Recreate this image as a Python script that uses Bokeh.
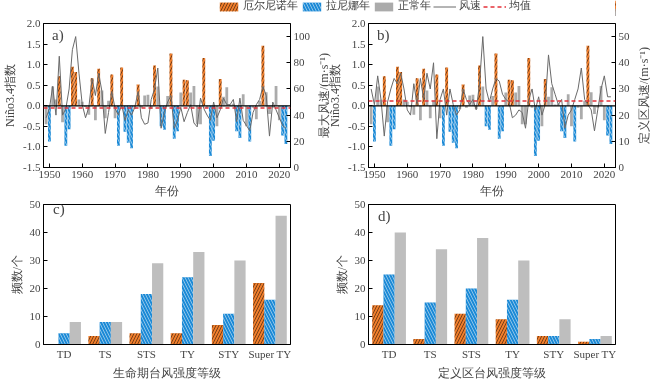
import math
import numpy as np
from bokeh.plotting import figure
from bokeh.models import (ColumnDataSource, Range1d, LinearAxis, Span, Legend, LegendItem,
                          FixedTicker, FactorRange, Label, NumeralTickFormatter)
from bokeh.layouts import column
from bokeh.embed import file_html
from bokeh.resources import INLINE
from bokeh.transform import dodge

# ---------------- data ----------------
years = list(range(1949, 2023))
nino34 = [-0.45, -0.87, 0.47, 0.15, 0.72, -0.40, -0.97, -0.57, 0.95, 0.82,
          0.15, 0.10, -0.03, -0.22, 0.67, -0.35, 0.90, 0.37, -0.30, 0.12,
          0.76, -0.30, -0.97, 0.93, -0.63, -0.90, -1.03, -0.08, 0.52, -0.05,
          0.25, 0.27, -0.08, 0.98, 0.47, -0.50, -0.58, 0.24, 1.27, -0.80,
          -0.62, 0.32, 0.63, 0.62, 0.32, 0.48, -0.45, -0.45, 1.16, -0.05,
          -1.22, -0.85, -0.50, 0.65, 0.22, 0.45, 0.03, 0.05, -0.62, -0.78,
          0.28, -0.50, -0.87, -0.05, -0.33, 0.12, 1.46, 0.33, -0.20, -0.05,
          0.48, -0.35, -0.72, -0.93]
elnino_years = [1953, 1957, 1958, 1963, 1965, 1969, 1972, 1977, 1982, 1987,
                1991, 1992, 1997, 2002, 2015]
lanina_years = [1950, 1955, 1956, 1971, 1973, 1974, 1975, 1984, 1985, 1988,
                1989, 1999, 2000, 2007, 2008, 2011, 2021, 2022]

# lifetime maximum wind speed (m/s)
wind_max = [38, 45, 62, 40, 85, 40, 45, 60, 90, 100,
            72, 48, 38, 46, 68, 55, 72, 58, 26, 42,
            58, 45, 40, 48, 36, 44, 40, 46, 58, 38,
            33, 34, 52, 60, 76, 30, 42, 50, 55, 30,
            36, 46, 35, 42, 48, 34, 31, 53, 45, 40,
            36, 50, 38, 44, 53, 48, 48, 52, 35, 53,
            36, 32, 28, 42, 48, 52, 62, 55, 24, 50,
            44, 38, 32, 30]
wind_max_mean = 45.5
# wind speed inside defined region (m/s)
wind_region = [30, 24, 35, 26, 12, 25, 30, 34, 32, 36,
               30, 22, 20, 32, 24, 34, 26, 36, 30, 40,
               11, 26, 30, 20, 30, 24, 20, 22, 30, 26,
               24, 26, 22, 32, 50, 30, 25, 30, 34, 33,
               28, 26, 25, 19, 20, 22, 21, 15, 26, 30,
               22, 27, 20, 24, 43, 32, 28, 24, 26, 15,
               20, 22, 26, 30, 38, 26, 24, 22, 14, 22,
               30, 35, 27, 27]
wind_region_mean = 25.4

categories = ["TD", "TS", "STS", "TY", "STY", "Super TY"]
life_elnino = [0, 3, 4, 4, 7, 22]
life_lanina = [4, 8, 18, 24, 11, 16]
life_normal = [8, 8, 29, 33, 30, 46]
reg_elnino = [14, 2, 11, 9, 3, 1]
reg_lanina = [25, 15, 20, 16, 3, 2]
reg_normal = [40, 34, 38, 30, 9, 3]

year_ticks = [1950, 1960, 1970, 1980, 1990, 2000, 2010, 2020]
nino_ticks = [-1.5, -1.0, -0.5, 0.0, 0.5, 1.0, 1.5, 2.0]
count_ticks = [0, 10, 20, 30, 40, 50]

# ---------------- style ----------------
FONT = "Liberation Serif"
ORANGE = "#F07E2C"
BLUE = "#1C8AD6"
GRAY_A = "#ABABAB"
GRAY_C = "#BEBEBE"
LINE_GRAY = "#6A6A6A"
RED = "#E3323A"
HATCH = dict(hatch_scale=6, hatch_weight=0.5)


def style_axis(ax):
    ax.major_label_text_font = FONT
    ax.major_label_text_font_size = "11px"
    ax.axis_label_text_font = FONT
    ax.axis_label_text_font_size = "12px"
    ax.axis_label_text_font_style = "normal"
    ax.major_tick_in = 4
    ax.major_tick_out = 0
    ax.minor_tick_in = 0
    ax.minor_tick_out = 0
    ax.axis_line_color = "black"
    ax.major_tick_line_color = "black"
    ax.major_label_standoff = 3
    ax.axis_label_standoff = 3


def fixed(left, top):
    return {"position": "fixed", "left": f"{left}px", "top": f"{top}px"}


def base_fig(width, height, x_range, y_range, bl, br, bt, bb, left, top):
    p = figure(width=width, height=height, x_range=x_range, y_range=y_range,
               output_backend="svg", toolbar_location=None,
               min_border_left=bl, min_border_right=br, min_border_top=bt,
               min_border_bottom=bb, styles=fixed(left, top))
    p.xgrid.visible = False
    p.ygrid.visible = False
    p.outline_line_color = "black"
    p.outline_line_alpha = 1
    p.outline_line_width = 1
    p.border_fill_alpha = 0
    return p


def text_strip(width, height, left, top, text, angle, size):
    """A bare transparent strip that only carries one (rotated) title text."""
    s = figure(width=width, height=height, x_range=Range1d(0, 1), y_range=Range1d(0, 1),
               output_backend="svg", toolbar_location=None, x_axis_type=None,
               y_axis_type=None, min_border=0, styles=fixed(left, top))
    s.outline_line_color = None
    s.xgrid.visible = False
    s.ygrid.visible = False
    s.border_fill_alpha = 0
    s.background_fill_alpha = 0
    s.add_layout(Label(x=0.5, y=0.5, text=text, angle=angle, text_font=FONT,
                       text_font_size=size, text_align="center", text_baseline="middle"))
    return s


cls = ["E" if y in elnino_years else ("L" if y in lanina_years else "N") for y in years]


def class_source(c):
    idx = [i for i, k in enumerate(cls) if k == c]
    return ColumnDataSource(dict(year=[years[i] for i in idx], v=[nino34[i] for i in idx]))


def top_panel(wind, mean, rmax, rticks, tag, width, bl, br, left):
    p = base_fig(width, 184, Range1d(1948.2, 2023.4), Range1d(-1.5, 2.0), bl, br, 7, 33, left, 16)
    p.extra_y_ranges = {"wind": Range1d(0, rmax)}
    p.vbar(x="year", top="v", width=0.85, source=class_source("N"), fill_color=GRAY_A, line_color=None)
    p.vbar(x="year", top="v", width=0.85, source=class_source("E"), fill_color=ORANGE, line_color=None,
           hatch_pattern="/", hatch_color="black", **HATCH)
    p.vbar(x="year", top="v", width=0.85, source=class_source("L"), fill_color=BLUE, line_color=None,
           hatch_pattern="\\", hatch_color="white", **HATCH)
    p.add_layout(Span(location=0, dimension="width", line_color="black", line_width=1.2))
    p.line(x=years, y=wind, y_range_name="wind", line_color=LINE_GRAY, line_width=1)
    p.add_layout(Span(location=mean, dimension="width", y_range_name="wind",
                      line_color=RED, line_dash="4 3", line_width=1.5))
    p.xaxis.ticker = FixedTicker(ticks=year_ticks)
    p.xaxis.axis_label = "年份"
    p.yaxis.ticker = FixedTicker(ticks=nino_ticks)
    p.yaxis.formatter = NumeralTickFormatter(format="0.0")
    p.yaxis.axis_label = "Niño3.4指数"
    rax = LinearAxis(y_range_name="wind", ticker=FixedTicker(ticks=rticks))
    p.add_layout(rax, "right")
    for ax in p.xaxis + p.yaxis:
        style_axis(ax)
    p.add_layout(Label(x=1950.8, y=1.71, text=tag, text_font=FONT, text_font_size="15px",
                       text_baseline="middle"))
    return p


def bottom_panel(ve, vl, vn, xlabel, tag, tag_y, width, bl, br, left):
    p = base_fig(width, 188, FactorRange(factors=categories, range_padding=0),
                 Range1d(0, 50), bl, br, 10, 33, left, 194)
    src = ColumnDataSource(dict(cat=categories, e=ve, l=vl, n=vn))
    w = 0.273
    p.vbar(x=dodge("cat", -w, range=p.x_range), top="e", width=w, source=src,
           fill_color=ORANGE, line_color=None, hatch_pattern="/", hatch_color="black", **HATCH)
    p.vbar(x=dodge("cat", 0, range=p.x_range), top="l", width=w, source=src,
           fill_color=BLUE, line_color=None, hatch_pattern="\\", hatch_color="white", **HATCH)
    p.vbar(x=dodge("cat", w, range=p.x_range), top="n", width=w, source=src,
           fill_color=GRAY_C, line_color=None)
    p.yaxis.ticker = FixedTicker(ticks=count_ticks)
    p.yaxis.axis_label = "频数/个"
    p.xaxis.axis_label = xlabel
    for ax in p.xaxis + p.yaxis:
        style_axis(ax)
    p.xaxis.major_tick_line_color = None
    p.add_layout(Label(x=0.23, y=tag_y, text=tag, text_font=FONT, text_font_size="15px",
                       text_baseline="middle"))
    return p


pa = top_panel(wind_max, wind_max_mean, 110, [0, 20, 40, 60, 80, 100], "a)", 325, 35, 35, 0)
pb = top_panel(wind_region, wind_region_mean, 55, [0, 10, 20, 30, 40, 50], "b)", 325, 37, 31, 325)
ta = text_strip(26, 150, 306, 20, "最大风速/(m·s⁻¹)", math.pi / 2, "12px")
tb = text_strip(22, 150, 628, 20, "定义区风速/(m·s⁻¹)", math.pi / 2, "12px")
pc = bottom_panel(life_elnino, life_lanina, life_normal, "生命期台风强度等级", "c)", 48.3, 325, 35, 33, 0)
pd = bottom_panel(reg_elnino, reg_lanina, reg_normal, "定义区台风强度等级", "d)", 45.9, 325, 38, 30, 325)

# ---------------- legend strip ----------------
leg = figure(width=650, height=16, x_range=Range1d(0, 1), y_range=Range1d(0, 1),
             output_backend="svg", toolbar_location=None, x_axis_type=None, y_axis_type=None,
             min_border=0, styles=fixed(0, 0))
leg.outline_line_color = None
leg.xgrid.visible = False
leg.ygrid.visible = False
leg.border_fill_alpha = 0
leg.background_fill_alpha = 0
# legend proxies reuse the real data (they fall outside this strip's ranges)
r1 = leg.vbar(x="year", top="v", width=0.85, source=class_source("E"), fill_color=ORANGE,
              line_color=None, hatch_pattern="/", hatch_color="black", **HATCH)
r2 = leg.vbar(x="year", top="v", width=0.85, source=class_source("L"), fill_color=BLUE,
              line_color=None, hatch_pattern="\\", hatch_color="white", **HATCH)
r3 = leg.vbar(x="year", top="v", width=0.85, source=class_source("N"), fill_color=GRAY_A,
              line_color=None)
r4 = leg.line(x=years, y=wind_max, line_color=LINE_GRAY, line_width=1)
r5 = leg.line(x=years, y=wind_region, line_color=RED, line_dash="4 3", line_width=1.5)
legend = Legend(items=[LegendItem(label="厄尔尼诺年", renderers=[r1]),
                       LegendItem(label="拉尼娜年", renderers=[r2]),
                       LegendItem(label="正常年", renderers=[r3]),
                       LegendItem(label="风速", renderers=[r4]),
                       LegendItem(label="均值", renderers=[r5])],
                orientation="horizontal", location=(174, 3),
                glyph_width=23, glyph_height=11, label_height=11, label_standoff=3,
                spacing=2, padding=0, margin=0, border_line_color=None,
                background_fill_alpha=0, label_text_font=FONT, label_text_font_size="10.5px")
leg.add_layout(legend, "center")

layout = column(leg, pa, pb, ta, tb, pc, pd, width=650, height=382)
open("out.html", "w").write(file_html(layout, INLINE))
